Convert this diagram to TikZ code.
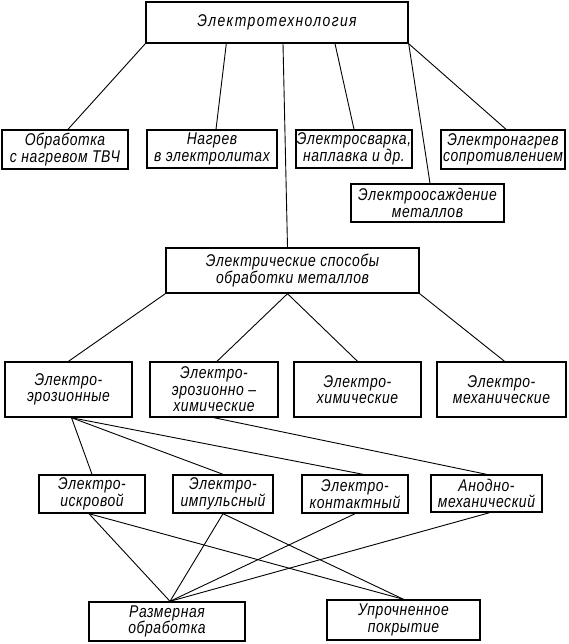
\documentclass[tikz,border=0pt]{standalone}
\usepackage{fontspec}
\newfontfamily\gostfam{Liberation Sans}[FakeStretch=0.82,LetterSpace=3.5]
\newfontfamily\gosttop{Liberation Sans}[FakeStretch=0.82,LetterSpace=8]
\newcommand\gostfont{\gostfam\itshape\fontsize{17}{16.5}\selectfont}
\newcommand\gosttopfont{\gosttop\itshape\fontsize{17}{16.5}\selectfont}
\begin{document}
\begin{tikzpicture}[x=1pt,y=-1pt,
  box/.style={draw, line width=1.4pt, inner sep=0pt, align=center, font=\gostfont},
  link/.style={line width=0.9pt}]
\useasboundingbox (0,0) rectangle (569,644);
% level 0
\node[box, font=\gosttopfont, minimum width=262pt, minimum height=41pt] (T) at (277,22.5) {Электротехнология};
% level 1
\node[box, minimum width=126pt, minimum height=39pt] (A) at (65,149.5) {Обработка\\с нагревом ТВЧ};
\node[box, minimum width=130pt, minimum height=38pt] (B) at (212,149) {Нагрев\\в электролитах};
\node[box, minimum width=116pt, minimum height=38pt] (C) at (354,149) {Электросварка,\\наплавка и др.};
\node[box, minimum width=124pt, minimum height=39pt] (D) at (503,149.5) {Электронагрев\\сопротивлением};
\node[box, minimum width=153pt, minimum height=38pt] (E) at (427.5,203) {Электроосаждение\\металлов};
% level 2
\node[box, minimum width=253pt, minimum height=45pt] (MB) at (292.5,270.5) {Электрические способы\\обработки металлов};
% level 3
\node[box, minimum width=127pt, minimum height=55pt] (F) at (68.5,389.5) {Электро-\\эрозионные};
\node[box, minimum width=128pt, minimum height=55pt] (G) at (214,389.5) {Электро-\\эрозионно –\\химические};
\node[box, minimum width=127pt, minimum height=55pt] (H) at (357.5,389.5) {Электро-\\химические};
\node[box, minimum width=129pt, minimum height=55pt] (I) at (501.5,389.5) {Электро-\\механические};
% level 4
\node[box, minimum width=106pt, minimum height=38pt] (J) at (92,494) {Электро-\\искровой};
\node[box, minimum width=100pt, minimum height=38pt] (K) at (223,494) {Электро-\\импульсный};
\node[box, minimum width=106pt, minimum height=38pt] (L) at (355,494) {Электро-\\контактный};
\node[box, minimum width=111pt, minimum height=37pt] (M) at (486.5,493.5) {Анодно-\\механический};
% level 5
\node[box, minimum width=156pt, minimum height=39pt] (N) at (167,621.5) {Размерная\\обработка};
\node[box, minimum width=153pt, minimum height=40pt] (O) at (403.5,620) {Упрочненное\\покрытие};
% connectors
\draw[link] (T.south west) -- ([xshift=3pt]A.north);
\draw[link] ([xshift=81pt]T.south west) -- ([xshift=4pt]B.north);
\draw[link] ([xshift=6pt]T.south) -- ([xshift=-5pt]MB.north);
\draw[link] ([xshift=58pt]T.south) -- (C.north);
\draw[link] (T.south east) -- ([xshift=2.5pt]E.north);
\draw[link] (T.south east) -- ([xshift=3pt]D.north);
\draw[link] (MB.south west) -- (F.north);
\draw[link] ([xshift=-5pt]MB.south) -- ([xshift=3pt]G.north);
\draw[link] ([xshift=-5pt]MB.south) -- (H.north);
\draw[link] (MB.south east) -- ([xshift=3pt]I.north);
\draw[link] ([xshift=3pt]F.south) -- (J.north);
\draw[link] ([xshift=3pt]F.south) -- (K.north);
\draw[link] ([xshift=3pt]F.south) -- ([xshift=8pt]L.north);
\draw[link] (G.south) -- (M.north);
\draw[link] ([xshift=-3pt]J.south) -- ([xshift=3pt]N.north);
\draw[link] ([xshift=-3pt]J.south) -- (O.north);
\draw[link] (K.south) -- ([xshift=3pt]N.north);
\draw[link] (K.south) -- (O.north);
\draw[link] (L.south) -- ([xshift=3pt]N.north);
\draw[link] ([xshift=3pt]M.south) -- ([xshift=3pt]N.north);
\end{tikzpicture}
\end{document}
